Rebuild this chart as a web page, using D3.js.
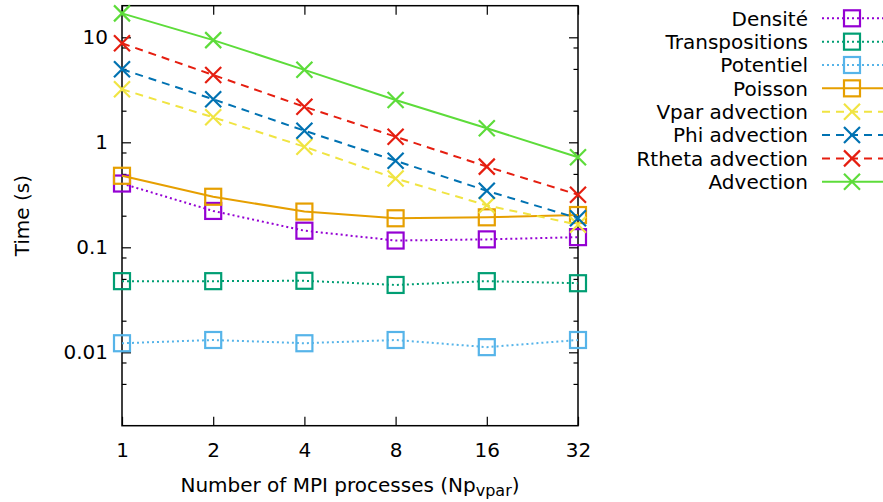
<!DOCTYPE html>
<html>
<head>
<meta charset="utf-8">
<script src="https://cdn.jsdelivr.net/npm/d3@7"></script>
<style>
  html, body { margin: 0; padding: 0; background: #fff; }
  svg { display: block; font-family: "DejaVu Sans", sans-serif; }
</style>
</head>
<body>
<svg id="chart" width="883" height="502"></svg>
<script>
// ---- data ----
const processes = [1, 2, 4, 8, 16, 32];
const seriesNames = ["Densité", "Transpositions", "Potentiel", "Poisson",
                     "Vpar advection", "Phi advection", "Rtheta advection", "Advection"];
const densite        = [0.405, 0.222, 0.144, 0.116, 0.119, 0.125];
const transpositions = [0.0476, 0.0476, 0.048, 0.0438, 0.0476, 0.0455];
const potentiel      = [0.0122, 0.0131, 0.0122, 0.0131, 0.0112, 0.0131];
const poisson        = [0.48, 0.303, 0.219, 0.189, 0.193, 0.203];
const vparAdvection  = [3.2, 1.73, 0.908, 0.452, 0.251, 0.164];
const phiAdvection   = [4.96, 2.57, 1.29, 0.668, 0.345, 0.189];
const rthetaAdvection= [8.77, 4.38, 2.18, 1.13, 0.587, 0.317];
const advection      = [16.9, 9.4, 4.9, 2.53, 1.36, 0.72];
const yMajorTicks = [0.01, 0.1, 1, 10];
const yMinorTicks = [0.005, 0.008, 0.02, 0.05, 0.08, 0.2, 0.5, 0.8, 2, 5, 8];
const yTickLabels = ["0.01", "0.1", "1", "10"];
const xTickLabels = ["1", "2", "4", "8", "16", "32"];

const seriesValues = [densite, transpositions, potentiel, poisson,
                      vparAdvection, phiAdvection, rthetaAdvection, advection];
const styles = [
  {color: "#9400d3", dash: "2,3",  marker: "square"},
  {color: "#009e73", dash: "2,3",  marker: "square"},
  {color: "#56b4e9", dash: "2,3",  marker: "square"},
  {color: "#e69f00", dash: null,   marker: "square"},
  {color: "#f0e442", dash: "8,6",  marker: "cross"},
  {color: "#0072b2", dash: "8,6",  marker: "cross"},
  {color: "#e51e10", dash: "8,6",  marker: "cross"},
  {color: "#5ddc3a", dash: null,   marker: "cross"}
];

// ---- layout ----
const L = 122, R = 578, T = 5.7, B = 425.7;
const svg = d3.select("#chart");
const x = d3.scaleLog().base(2).domain([1, 32]).range([L, R]);
const y = d3.scaleLog().base(10).domain([0.002, 20]).range([B, T]);
const FS = 20;

// axes
const gAx = svg.append("g").attr("class", "axes");
function styleAxis(g) {
  g.select(".domain").remove();
  g.selectAll(".tick line").attr("stroke", "#000").attr("stroke-width", 1.2);
  g.selectAll("text").attr("font-size", FS).attr("fill", "#000")
    .attr("font-family", "DejaVu Sans, sans-serif");
}
gAx.append("g").attr("transform", `translate(${L},0)`)
  .call(d3.axisLeft(y).tickValues(yMajorTicks).tickSize(-9).tickPadding(14)
    .tickFormat((d, i) => yTickLabels[i]))
  .call(styleAxis);
gAx.append("g").attr("transform", `translate(${L},0)`)
  .call(d3.axisLeft(y).tickValues(yMinorTicks).tickSize(-4.5).tickFormat(""))
  .call(styleAxis);
gAx.append("g").attr("transform", `translate(${R},0)`)
  .call(d3.axisRight(y).tickValues(yMajorTicks).tickSize(-9).tickFormat(""))
  .call(styleAxis);
gAx.append("g").attr("transform", `translate(${R},0)`)
  .call(d3.axisRight(y).tickValues(yMinorTicks).tickSize(-4.5).tickFormat(""))
  .call(styleAxis);
gAx.append("g").attr("transform", `translate(0,${B})`)
  .call(d3.axisBottom(x).tickValues(processes).tickSize(-9).tickPadding(17)
    .tickFormat((d, i) => xTickLabels[i]))
  .call(styleAxis);
gAx.append("g").attr("transform", `translate(0,${T})`)
  .call(d3.axisTop(x).tickValues(processes).tickSize(-9).tickFormat(""))
  .call(styleAxis);

// frame
svg.append("rect").attr("x", L).attr("y", T).attr("width", R - L).attr("height", B - T)
  .attr("fill", "none").attr("stroke", "#000").attr("stroke-width", 1.5);

// axis titles
svg.append("text").attr("transform", `translate(29,${(T + B) / 2}) rotate(-90)`)
  .attr("text-anchor", "middle").attr("font-size", FS).text("Time (s)");
const xt = svg.append("text").attr("x", (L + R) / 2).attr("y", 491.5)
  .attr("text-anchor", "middle").attr("font-size", FS);
xt.append("tspan").text("Number of MPI processes (Np");
xt.append("tspan").attr("font-size", 16).attr("dy", 4).text("vpar");
xt.append("tspan").attr("dy", -4).text(")");

// marks
function drawMarker(g, cx, cy, st) {
  if (st.marker === "square") {
    g.append("rect").attr("x", cx - 8).attr("y", cy - 8).attr("width", 16).attr("height", 16)
      .attr("fill", "none").attr("stroke", st.color).attr("stroke-width", 2.2);
  } else {
    const s = 8;
    g.append("path").attr("d", `M${cx - s},${cy - s}L${cx + s},${cy + s}M${cx - s},${cy + s}L${cx + s},${cy - s}`)
      .attr("stroke", st.color).attr("stroke-width", 2.2).attr("fill", "none");
  }
}
const line = d3.line().x((d, i) => x(processes[i])).y(d => y(d));
const gData = svg.append("g");
seriesValues.forEach((vals, k) => {
  const st = styles[k];
  const g = gData.append("g");
  g.append("path").attr("d", line(vals)).attr("fill", "none")
    .attr("stroke", st.color).attr("stroke-width", 2)
    .attr("stroke-dasharray", st.dash);
  vals.forEach((v, i) => drawMarker(g, x(processes[i]), y(v), st));
});

// legend
const gLeg = svg.append("g");
seriesNames.forEach((name, k) => {
  const st = styles[k];
  const cy = 18.3 + k * 23.35;
  gLeg.append("text").attr("x", 808).attr("y", cy).attr("dy", "0.36em")
    .attr("text-anchor", "end").attr("font-size", FS).text(name);
  gLeg.append("line").attr("x1", 822).attr("x2", 883).attr("y1", cy).attr("y2", cy)
    .attr("stroke", st.color).attr("stroke-width", 2).attr("stroke-dasharray", st.dash);
  drawMarker(gLeg, 852, cy, st);
});
</script>
</body>
</html>
